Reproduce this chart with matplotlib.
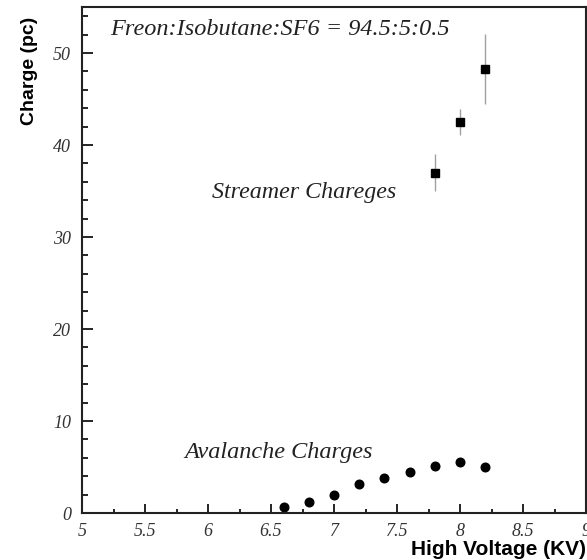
import matplotlib
matplotlib.use("Agg")
import matplotlib.pyplot as plt
from matplotlib.ticker import MultipleLocator

# avalanche charges (circles)
aval_hv = [6.6, 6.8, 7.0, 7.2, 7.4, 7.6, 7.8, 8.0, 8.2]
aval_q = [0.65, 1.2, 1.95, 3.15, 3.8, 4.5, 5.1, 5.5, 5.05]

# streamer charges (squares) with errors
str_hv = [7.8, 8.0, 8.2]
str_q = [37.0, 42.5, 48.3]
str_err = [2.0, 1.4, 3.8]

x_ticks = [5, 5.5, 6, 6.5, 7, 7.5, 8, 8.5, 9]
x_ticklabels = ["5", "5.5", "6", "6.5", "7", "7.5", "8", "8.5", "9"]
y_ticks = [0, 10, 20, 30, 40, 50]

serif = "Liberation Serif"
sans = "Liberation Sans"

fig = plt.figure(figsize=(5.87, 5.60), dpi=100)
ax = fig.add_axes([82 / 587, 1 - 513 / 560, 504 / 587, 506 / 560])

ax.errorbar(str_hv, str_q, yerr=str_err, fmt="s", color="black", ms=6,
            ecolor="#a0a0a0", elinewidth=1, capsize=0)
ax.plot(aval_hv, aval_q, "o", color="black", ms=6.2)

ax.set_xlim(5, 9)
ax.set_ylim(0, 55)
ax.set_xticks(x_ticks)
ax.set_xticklabels(x_ticklabels)
ax.set_yticks(y_ticks)
ax.xaxis.set_minor_locator(MultipleLocator(0.25))
ax.yaxis.set_minor_locator(MultipleLocator(2))

ax.tick_params(axis="x", which="major", direction="in", length=6.5, width=1.2, pad=7)
ax.tick_params(axis="x", which="minor", direction="in", length=3, width=1.2)
ax.tick_params(axis="y", which="major", direction="in", length=8, width=1.2, pad=8)
ax.tick_params(axis="y", which="minor", direction="in", length=4.3, width=1.2)
for lab in ax.get_xticklabels() + ax.get_yticklabels():
    lab.set_fontfamily(serif)
    lab.set_fontstyle("italic")
    lab.set_fontsize(13)
    lab.set_color("#333333")

for sp in ax.spines.values():
    sp.set_linewidth(1.5)
    sp.set_color("#222222")

ax.text(5.22, 51.96, "Freon:Isobutane:SF6 = 94.5:5:0.5", family=serif,
        style="italic", fontsize=17.5, va="baseline", ha="left", color="#222222")
ax.text(6.03, 34.24, "Streamer Chareges", family=serif, style="italic",
        fontsize=17.3, va="baseline", ha="left", color="#222222")
ax.text(5.81, 5.98, "Avalanche Charges", family=serif, style="italic",
        fontsize=17.5, va="baseline", ha="left", color="#222222")

fig.text(30 / 587, 1 - 17 / 560, "Charge (pc)", family=sans, weight="bold",
         fontsize=14, rotation=90, ha="center", va="top")
fig.text(0.999, 1 - 555 / 560, "High Voltage (KV)", family=sans, weight="bold",
         fontsize=15, ha="right", va="baseline")

fig.savefig("out.png", dpi=100)
